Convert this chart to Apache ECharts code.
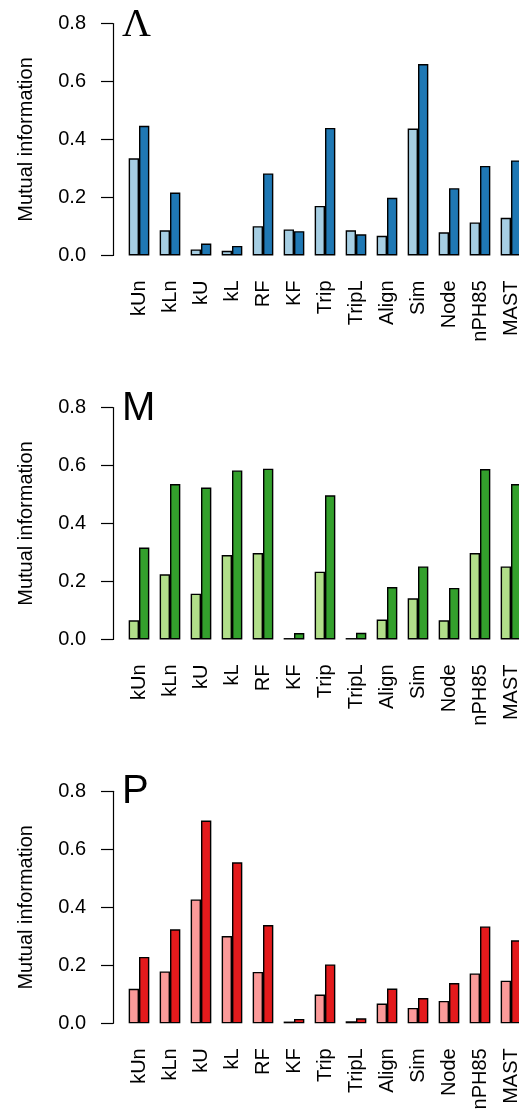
<!DOCTYPE html>
<html>
<head>
<meta charset="utf-8">
<script src="https://cdn.jsdelivr.net/npm/echarts@6/dist/echarts.min.js"></script>
<style>
html,body{margin:0;padding:0;background:#fff;overflow:hidden;}
#c{width:540px;height:1114px;}
</style>
</head>
<body>
<div id="c"></div>
<script>
const categories = ['kUn','kLn','kU','kL','RF','KF','Trip','TripL','Align','Sim','Node','nPH85','MAST'];
const yTicks = [0, 0.2, 0.4, 0.6, 0.8];
const panelLabels = ['\u039B', 'M', 'P'];

const lambdaLight = [0.335, 0.087, 0.021, 0.016, 0.101, 0.090, 0.171, 0.087, 0.068, 0.438, 0.080, 0.114, 0.130];
const lambdaDark  = [0.447, 0.217, 0.041, 0.033, 0.283, 0.084, 0.440, 0.073, 0.199, 0.660, 0.232, 0.309, 0.328];

const mLight = [0.066, 0.225, 0.158, 0.291, 0.298, 0.005, 0.234, 0.005, 0.069, 0.142, 0.066, 0.298, 0.252];
const mDark  = [0.317, 0.536, 0.524, 0.583, 0.589, 0.022, 0.497, 0.023, 0.181, 0.252, 0.178, 0.588, 0.536];

const pLight = [0.119, 0.179, 0.427, 0.301, 0.177, 0.006, 0.099, 0.007, 0.068, 0.053, 0.077, 0.172, 0.147];
const pDark  = [0.229, 0.324, 0.699, 0.555, 0.339, 0.015, 0.203, 0.017, 0.120, 0.087, 0.139, 0.334, 0.286];

const panels = [
  {light: lambdaLight, dark: lambdaDark, cl: '#A6CEE3', cd: '#1F78B4', top: 23.5},
  {light: mLight, dark: mDark, cl: '#B2DF8A', cd: '#33A02C', top: 407.5},
  {light: pLight, dark: pDark, cl: '#FB9A99', cd: '#E31A1C', top: 791.3}
];

const FONT = 'Liberation Sans, Arial, Helvetica, sans-serif';
const gridH = 232;
const pitch = 31;
const barW = 10.33;

const grids = [], xAxes = [], yAxes = [], series = [], graphics = [];
panels.forEach((p, i) => {
  grids.push({left: 123.5, top: p.top, width: pitch * categories.length, height: gridH, containLabel: false});
  xAxes.push({
    type: 'category', gridIndex: i, data: categories,
    axisLine: {show: false}, axisTick: {show: false},
    axisLabel: {interval: 0, rotate: 90, margin: 25, color: '#000', fontSize: 20, fontFamily: FONT}
  });
  yAxes.push({
    type: 'value', gridIndex: i, min: yTicks[0], max: yTicks[yTicks.length - 1], interval: 0.2,
    offset: 10.5,
    name: 'Mutual information', nameLocation: 'middle', nameGap: 77,
    nameTextStyle: {color: '#000', fontSize: 20, fontFamily: FONT},
    axisLine: {show: true, lineStyle: {color: '#000', width: 1.2}},
    axisTick: {show: true, length: 12, lineStyle: {color: '#000', width: 1.2}},
    axisLabel: {margin: 27, color: '#000', fontSize: 20, fontFamily: FONT,
      formatter: v => v.toFixed(1)},
    splitLine: {show: false}
  });
  series.push({
    type: 'bar', xAxisIndex: i, yAxisIndex: i, data: p.light, barWidth: barW, barGap: '0%',
    itemStyle: {color: p.cl, borderColor: '#000', borderWidth: 1.4}, animation: false
  });
  series.push({
    type: 'bar', xAxisIndex: i, yAxisIndex: i, data: p.dark, barWidth: barW, barGap: '0%',
    itemStyle: {color: p.cd, borderColor: '#000', borderWidth: 1.4}, animation: false
  });
  graphics.push({
    type: 'text', left: 122, top: p.top - (i === 0 ? 18 : 19),
    style: {text: panelLabels[i], fill: '#000',
      font: (i === 0 ? '40px "Liberation Serif", "DejaVu Serif", serif' : '40px "Liberation Sans", Arial, sans-serif')}
  });
});

const chart = echarts.init(document.getElementById('c'), null, {renderer: 'canvas'});
chart.setOption({
  backgroundColor: '#fff',
  animation: false,
  grid: grids, xAxis: xAxes, yAxis: yAxes, series: series, graphic: graphics
});
</script>
</body>
</html>
